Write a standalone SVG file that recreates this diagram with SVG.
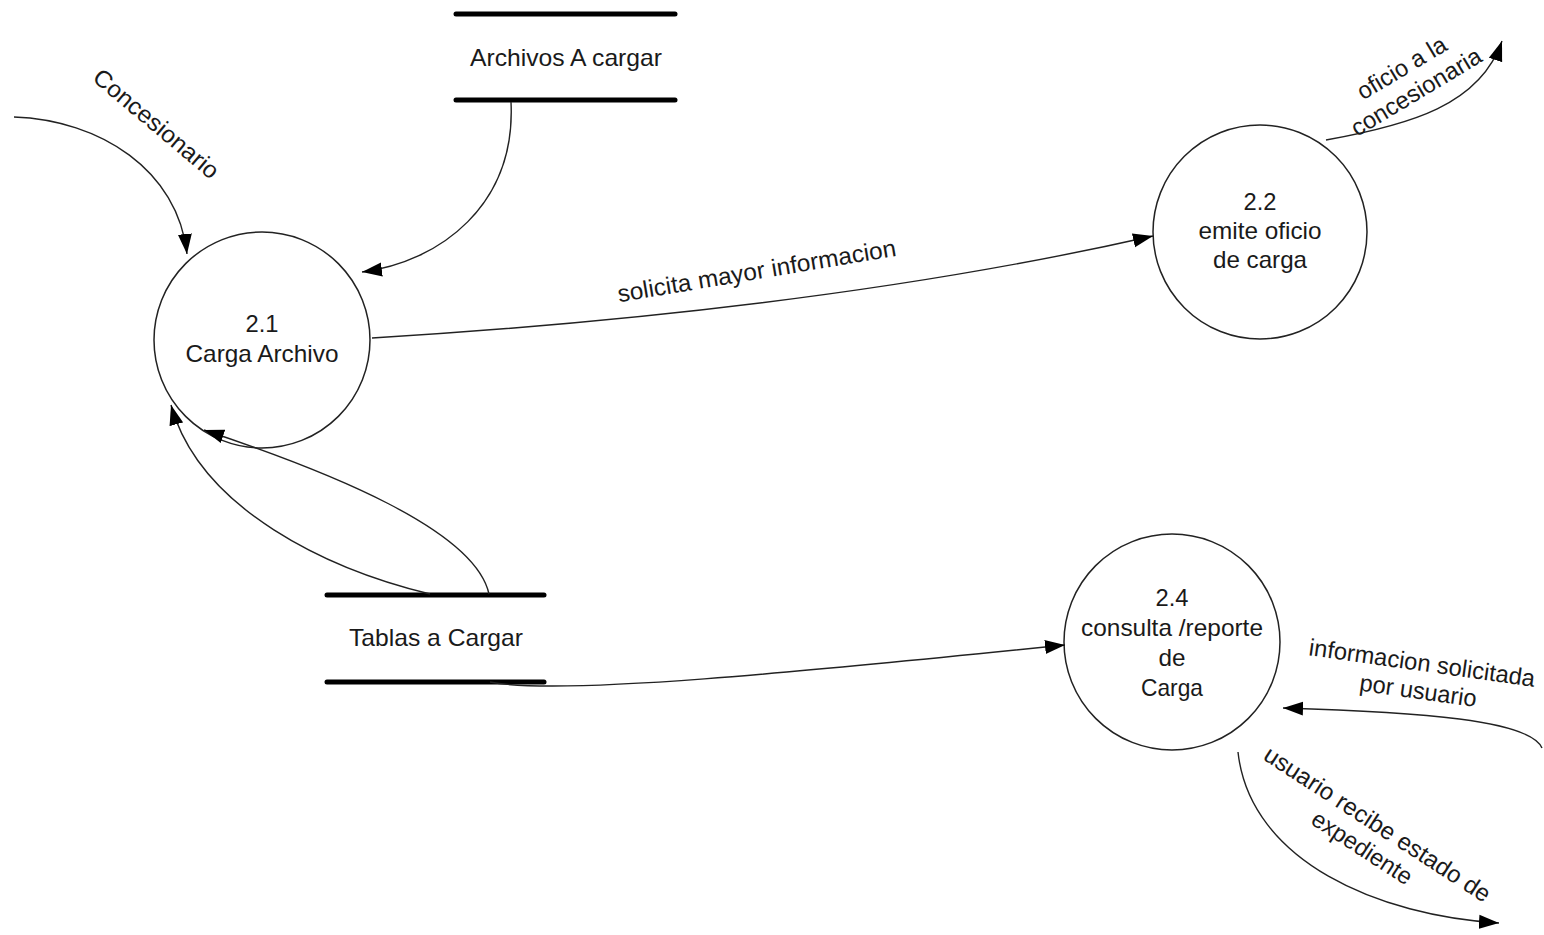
<svg xmlns="http://www.w3.org/2000/svg" width="1544" height="935" viewBox="0 0 1544 935">
<style>
.t{font-family:"Liberation Sans",Arial,sans-serif;font-size:24px;fill:#1a1a1a;text-anchor:middle}
.p{fill:#fff;stroke:#222;stroke-width:1.5}
.s{stroke:#000;stroke-width:5;stroke-linecap:round}
.c{fill:none;stroke:#222;stroke-width:1.4}
</style>
<defs>
<marker id="a" viewBox="0 0 20 14" refX="20" refY="7" markerWidth="20" markerHeight="15" markerUnits="userSpaceOnUse" orient="auto">
<path d="M0,0 L20,7 L0,14 Z" fill="#000"/>
</marker>
</defs>
<rect width="1544" height="935" fill="#fff"/>
<g id="n21"><circle class="p" cx="262" cy="340" r="108"/><text class="t" x="262" y="332" textLength="33" lengthAdjust="spacingAndGlyphs">2.1</text><text class="t" x="262" y="362" textLength="153" lengthAdjust="spacingAndGlyphs">Carga Archivo</text></g>
<g id="n22"><circle class="p" cx="1260" cy="232" r="107"/><text class="t" x="1260" y="210" textLength="33" lengthAdjust="spacingAndGlyphs">2.2</text><text class="t" x="1260" y="239" textLength="123" lengthAdjust="spacingAndGlyphs">emite oficio</text><text class="t" x="1260" y="268" textLength="94" lengthAdjust="spacingAndGlyphs">de carga</text></g>
<g id="n24"><circle class="p" cx="1172" cy="642" r="108"/><text class="t" x="1172" y="606" textLength="33" lengthAdjust="spacingAndGlyphs">2.4</text><text class="t" x="1172" y="636" textLength="182" lengthAdjust="spacingAndGlyphs">consulta /reporte</text><text class="t" x="1172" y="666" textLength="27" lengthAdjust="spacingAndGlyphs">de</text><text class="t" x="1172" y="696" textLength="62" lengthAdjust="spacingAndGlyphs">Carga</text></g>
<g id="archivos"><line class="s" x1="456" y1="14" x2="675" y2="14"/><line class="s" x1="456" y1="100" x2="675" y2="100"/><text class="t" x="566" y="66" textLength="192" lengthAdjust="spacingAndGlyphs">Archivos A cargar</text></g>
<g id="tablas"><line class="s" x1="327" y1="595" x2="544" y2="595"/><line class="s" x1="327" y1="682" x2="544" y2="682"/><text class="t" x="436" y="646" textLength="174" lengthAdjust="spacingAndGlyphs">Tablas a Cargar</text></g>
<g id="connectors">
<path class="c" d="M14,117 C100,120 178,170 187,254" marker-end="url(#a)"/>
<path class="c" d="M511,102 C516,205 440,262 362,272" marker-end="url(#a)"/>
<path class="c" d="M372,338 C700,318 950,282 1153,236" marker-end="url(#a)"/>
<path class="c" d="M1326,140 C1410,125 1480,105 1502,41" marker-end="url(#a)"/>
<path class="c" d="M430,594 C330,570 200,510 171,405" marker-end="url(#a)"/>
<path class="c" d="M489,594 C475,530 330,472 204,430" marker-end="url(#a)"/>
<path class="c" d="M490,682 C560,696 800,672 1065,645" marker-end="url(#a)"/>
<path class="c" d="M1542,748 C1530,720 1420,712 1283,708" marker-end="url(#a)"/>
<path class="c" d="M1238,752 C1250,862 1380,916 1499,923" marker-end="url(#a)"/>
<text class="t" transform="translate(151,130) rotate(40)" textLength="156" lengthAdjust="spacingAndGlyphs">Concesionario</text>
<text class="t" transform="translate(758,279) rotate(-9.5)" textLength="282" lengthAdjust="spacingAndGlyphs">solicita mayor informacion</text>
<text class="t" transform="translate(1409,80) rotate(-31)"><tspan x="0" y="-6" textLength="100" lengthAdjust="spacingAndGlyphs">oficio a la</tspan><tspan x="0" y="22" textLength="148" lengthAdjust="spacingAndGlyphs">concesionaria</tspan></text>
<text class="t" transform="translate(1421,671) rotate(8)"><tspan x="0" y="0" textLength="228" lengthAdjust="spacingAndGlyphs">informacion solicitada</tspan><tspan x="0" y="28" textLength="118" lengthAdjust="spacingAndGlyphs">por usuario</tspan></text>
<text class="t" transform="translate(1373,831) rotate(33)"><tspan x="0" y="0" textLength="265" lengthAdjust="spacingAndGlyphs">usuario recibe estado de</tspan><tspan x="0" y="28" textLength="115" lengthAdjust="spacingAndGlyphs">expediente</tspan></text>
</g>
</svg>
